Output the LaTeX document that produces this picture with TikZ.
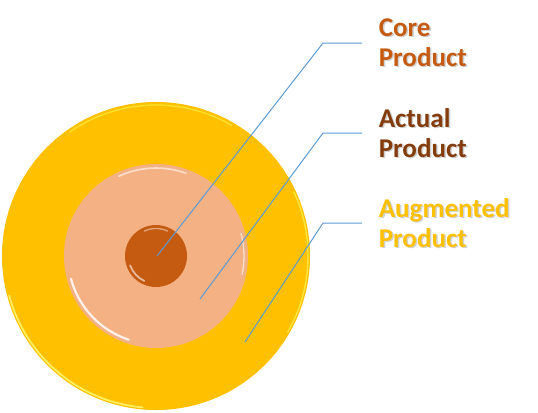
\documentclass[tikz,border=0pt]{standalone}
\usepackage{fontspec}
\setmainfont{Carlito}
\definecolor{gold}{HTML}{FFC000}
\definecolor{peach}{HTML}{F4B183}
\definecolor{rust}{HTML}{C55A11}
\definecolor{brownc}{HTML}{843C0C}
\definecolor{leader}{HTML}{5B9BD5}
\begin{document}
\begin{tikzpicture}[x=0.75pt,y=-0.75pt,
  ring/.style={circle,inner sep=0pt,draw=none},
  lbl/.style={anchor=west,inner sep=0pt,align=left,font=\fontsize{20.3}{22.5}\selectfont\bfseries},
  shadowlbl/.style={lbl,text=black,opacity=0.18},
  lead/.style={draw=leader,line width=0.75pt},
  shine/.style={line cap=round}]
\useasboundingbox (0,0) rectangle (538,412);
% circles
\node[ring,fill=gold,minimum size=231pt] (outer) at (156,256) {};
\draw[shine,draw=yellow!55!white,line width=1.3pt,opacity=0.85] (156,256) ++(95:152) arc[start angle=95,end angle=165,radius=152];
\draw[shine,draw=yellow!65!white,line width=1pt,opacity=0.7] (156,256) ++(-25:152) arc[start angle=-25,end angle=30,radius=152];
\draw[shine,draw=yellow!70!white,line width=1pt,opacity=0.6] (156,256) ++(235:151) arc[start angle=235,end angle=300,radius=151];
\node[ring,fill=peach,minimum size=138pt] (middle) at (156,256) {};
\draw[shine,draw=white,line width=1.6pt,opacity=0.85] (156,256) ++(108:88) arc[start angle=108,end angle=165,radius=88];
\draw[shine,draw=white,line width=1.2pt,opacity=0.6] (156,256) ++(245:88) arc[start angle=245,end angle=290,radius=88];
\draw[shine,draw=white,line width=1pt,opacity=0.6] (156,256) ++(-15:88) arc[start angle=-15,end angle=12,radius=88];
\node[ring,fill=rust,minimum size=46.5pt] (inner) at (156,256) {};
\draw[shine,draw=white,line width=1.3pt,opacity=0.6] (156,256) ++(115:27.5) arc[start angle=115,end angle=160,radius=27.5];
\draw[shine,draw=white,line width=1pt,opacity=0.45] (156,256) ++(245:27.5) arc[start angle=245,end angle=295,radius=27.5];
% label shadows
\node[shadowlbl] (coreSh) at (380,44) {Core\\Product};
\node[shadowlbl] (actualSh) at (380,134) {Actual\\Product};
\node[shadowlbl] (augSh) at (380,224) {Augmented\\Product};
% labels
\node[lbl,text=rust] (coreLbl) at (378.5,43) {Core\\Product};
\node[lbl,text=brownc] (actualLbl) at (378.5,133) {Actual\\Product};
\node[lbl,text=gold] (augLbl) at (378.5,223) {Augmented\\Product};
% leader points
\coordinate (coreIn) at (157,256);
\coordinate (coreBend) at (323,43);
\coordinate (actIn) at (200,299);
\coordinate (actBend) at (323,133);
\coordinate (augIn) at (245,342);
\coordinate (augBend) at (323,223);
\draw[lead,shorten >=12.4pt] (coreIn) -- (coreBend) -- (coreBend -| coreLbl.west);
\draw[lead,shorten >=12.4pt] (actIn) -- (actBend) -- (actBend -| actualLbl.west);
\draw[lead,shorten >=12.4pt] (augIn) -- (augBend) -- (augBend -| augLbl.west);
\end{tikzpicture}
\end{document}
